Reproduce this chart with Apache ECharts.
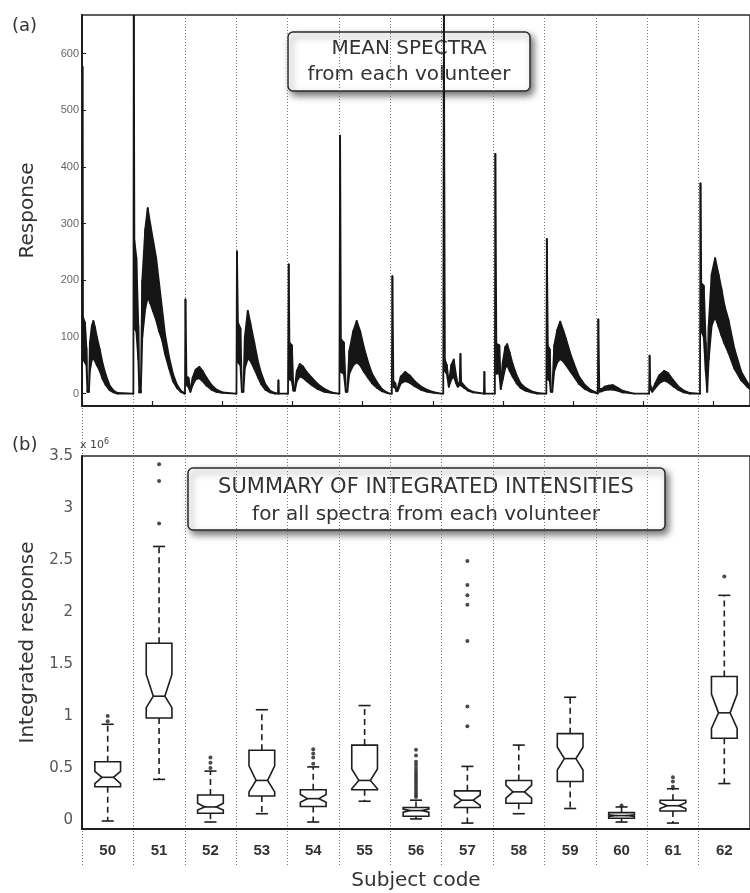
<!DOCTYPE html>
<html>
<head>
<meta charset="utf-8">
<script src="https://cdn.jsdelivr.net/npm/echarts@6/dist/echarts.min.js"></script>
<style>
  html, body { margin: 0; padding: 0; background: #fff; }
  #chart { width: 750px; height: 893px; }
</style>
</head>
<body>
<div id="chart"></div>
<script>
// subject codes, one spectrum segment and one box per volunteer
const subjects = ['50', '51', '52', '53', '54', '55', '56', '57', '58', '59', '60', '61', '62'];

// (a) mean spectra: [offset in segment, lower edge, upper edge]
const spec50 = [[0,0,0],[0.5,577,577],[1,60,135],[3,55,125],[4.5,50,80],[5.5,3,5],[7,3,5],[8,40,90],[10,60,120],[11.5,62,128],[13,58,118],[15,50,100],[18,40,78],[21,25,52],[24,15,33],[28,6,14],[32,2,5],[36,0,1],[51.5,0,0]];
const spec51 = [[0,0,0],[0.4,700,700],[1,115,270],[3,110,240],[5,60,120],[6,2,5],[7.5,2,5],[9,100,200],[12,150,290],[14.5,170,327],[17,160,300],[20,145,270],[23,130,240],[26,110,195],[29,95,150],[32,70,105],[36,45,65],[40,22,35],[44,10,16],[48,3,5],[51.5,0,1]];
const spec52 = [[0.2,0,0],[0.7,166,166],[1.7,15,30],[3.7,12,28],[5.7,3,6],[8,15,28],[11,25,42],[14.7,27,47],[18,22,40],[22,14,28],[27,7,15],[32,3,7],[38,1,2],[51.5,0,0]];
const spec53 = [[0.3,0,0],[0.8,251,251],[1.8,55,125],[4.3,50,115],[5.8,3,5],[7.3,3,5],[8.8,45,100],[11.8,62,146],[14.3,58,125],[18.3,44,90],[22.3,28,55],[25.3,17,36],[29.3,7,17],[34.3,2,5],[39.3,0,1],[42.3,0,0],[42.8,23,23],[43.3,0,0],[51.5,0,0]];
const spec54 = [[0.5,0,0],[1.2,228,228],[1.9,25,90],[4.4,22,85],[5.9,5,8],[7.4,5,10],[9.4,22,40],[12.4,30,52],[15.4,28,48],[19.4,22,38],[24.4,15,28],[30.4,8,17],[37.4,3,8],[44.4,1,2],[51.5,0,0]];
const spec55 = [[0.5,0,0],[1.2,455,455],[2,38,96],[5,35,90],[7,3,6],[8.5,3,6],[10.5,35,75],[14.5,50,110],[18,55,128],[21.5,50,110],[25.5,38,80],[29.5,28,55],[33.5,18,35],[38.5,10,20],[43.5,4,8],[48.5,1,2],[51.5,0,0]];
const spec56 = [[1.5,0,0],[2.1,207,207],[3.1,12,22],[5.1,10,18],[6.1,4,6],[7.6,5,10],[10.6,18,30],[15.1,22,38],[19.6,19,32],[24.6,13,22],[30.6,7,13],[37.6,3,6],[44.6,1,2],[51.6,0,0]];
const spec57 = [[1.6,0,0],[2.2,700,700],[3.2,40,60],[5.2,35,50],[7.2,12,18],[9.7,25,50],[12.2,30,60],[14.7,18,30],[16.2,12,16],[18.2,15,20],[19,70,70],[19.7,14,20],[22.7,10,14],[26.7,5,7],[31.7,2,3],[42.7,0,0],[43.2,38,38],[43.7,0,0],[51.7,0,0]];
const spec58 = [[1.8,0,0],[2.3,423,423],[3.3,35,88],[6.3,35,85],[7.8,8,12],[9.8,25,55],[12.3,45,82],[14.3,50,87],[16.8,40,72],[19.8,30,52],[23.8,18,32],[27.8,10,18],[32.8,5,10],[38.8,2,4],[44.8,0,1],[51.8,0,0]];
const spec59 = [[1.9,0,0],[2.4,273,273],[3.4,25,84],[5.4,22,78],[6.4,3,5],[7.9,3,6],[9.9,40,85],[12.9,55,112],[15.9,61,127],[18.9,57,112],[21.9,50,96],[25.9,40,72],[29.9,30,52],[34.9,17,30],[40.9,8,15],[46.9,3,6],[51.9,1,2]];
const spec60 = [[2,0,0],[2.5,131,131],[3.5,3,8],[6,4,8],[9,6,12],[13,7,14],[17,7,15],[22,5,10],[27,2,5],[33,1,2],[39,0,0],[51.9,0,0]];
const spec61 = [[1.9,0,0],[2.4,67,67],[3.1,8,15],[5.1,3,6],[8.1,10,18],[12.1,18,32],[17.1,23,40],[21.1,20,36],[26.1,13,24],[31.1,7,13],[37.1,2,5],[43.1,0,1],[51.8,0,0]];
const spec62 = [[1.4,0,0],[1.9,371,371],[2.7,110,195],[5.2,100,190],[7.2,40,90],[8.7,3,5],[10.2,60,120],[13.2,120,210],[16.7,135,239],[20.2,118,210],[23.2,102,184],[26.2,88,155],[30.2,72,130],[36.2,44,79],[43.2,23,38],[49.2,12,20],[52,8,14]];
const spectra = [spec50, spec51, spec52, spec53, spec54, spec55, spec56, spec57, spec58, spec59, spec60, spec61, spec62];
const segLen = 52;
const responseTicks = [0, 100, 200, 300, 400, 500, 600];

// (b) integrated intensities (x 10^6)
const lowWhisker = [-0.01, 0.39, -0.02, 0.06, -0.02, 0.18, 0.01, -0.03, 0.06, 0.11, -0.02, -0.03, 0.35];
const q1 = [0.32, 0.98, 0.065, 0.23, 0.13, 0.29, 0.035, 0.12, 0.16, 0.37, 0.016, 0.086, 0.785];
const notchLo = [0.35, 1.08, 0.095, 0.27, 0.17, 0.30, 0.075, 0.14, 0.21, 0.48, 0.034, 0.11, 0.88];
const median = [0.41, 1.19, 0.125, 0.38, 0.205, 0.38, 0.09, 0.19, 0.27, 0.59, 0.042, 0.137, 1.03];
const notchHi = [0.467, 1.40, 0.16, 0.52, 0.245, 0.49, 0.105, 0.24, 0.335, 0.70, 0.05, 0.165, 1.21];
const q3 = [0.56, 1.70, 0.24, 0.67, 0.29, 0.72, 0.12, 0.28, 0.38, 0.83, 0.07, 0.19, 1.38];
const highWhisker = [0.92, 2.63, 0.47, 1.06, 0.51, 1.10, 0.19, 0.515, 0.72, 1.18, 0.125, 0.30, 2.16];
const outliers = [
  [1.00, 0.95],
  [3.42, 3.26, 2.85],
  [0.50, 0.55, 0.60],
  [],
  [0.54, 0.60, 0.64, 0.68],
  [],
  [0.22, 0.245, 0.27, 0.295, 0.32, 0.345, 0.37, 0.395, 0.42, 0.445, 0.47, 0.50, 0.53, 0.56, 0.62, 0.675],
  [2.49, 2.26, 2.16, 2.07, 1.72, 1.09, 0.90],
  [],
  [],
  [0.14],
  [0.32, 0.37, 0.41],
  [2.34]
];
const intTicks = [0, 0.5, 1, 1.5, 2, 2.5, 3, 3.5];

// tables for the library
const specRows = [];
spectra.forEach(function (seg, i) {
  seg.forEach(function (p) { specRows.push([i * segLen + p[0], p[1], p[2]]); });
});
const boxRows = subjects.map(function (s, i) {
  return [i, lowWhisker[i], q1[i], notchLo[i], median[i], notchHi[i], q3[i], highWhisker[i]];
});
const outlierRows = [];
outliers.forEach(function (list, i) {
  list.forEach(function (v) { outlierRows.push([i, v]); });
});

const ink = '#1e1e1e';
const font = 'DejaVu Sans';
const plotW = 13 * 51.9;

const chart = echarts.init(document.getElementById('chart'));

chart.setOption({
  backgroundColor: '#fff',
  animation: false,
  grid: [
    { left: 82, top: 15, width: plotW, height: 391, show: true, borderColor: '#2a2a2a', borderWidth: 1.5 },
    { left: 82, top: 456, width: plotW, height: 373, show: true, borderColor: '#2a2a2a', borderWidth: 1.5 },
    { left: 82, top: 15, width: plotW, height: 850 }
  ],
  xAxis: [
    {
      gridIndex: 0, type: 'value', min: 0, max: 13 * segLen, interval: 71,
      axisLine: { onZero: false, lineStyle: { color: ink, width: 2 } },
      axisTick: { inside: true, length: 5, lineStyle: { color: ink, width: 1.2 } },
      axisLabel: { show: false },
      splitLine: { show: false }
    },
    {
      gridIndex: 1, type: 'category', data: subjects,
      name: 'Subject code', nameLocation: 'middle', nameGap: 42,
      nameTextStyle: { fontFamily: font, fontSize: 20, color: '#333' },
      axisLine: { onZero: false, lineStyle: { color: ink, width: 2 } },
      axisTick: { show: false },
      axisLabel: { fontFamily: 'Liberation Sans', fontWeight: 'bold', fontSize: 15, color: '#333', margin: 14 },
      splitLine: { show: false }
    },
    {
      gridIndex: 2, type: 'category', data: subjects,
      axisLine: { show: false }, axisTick: { show: false }, axisLabel: { show: false },
      splitLine: { show: true, lineStyle: { color: '#777', width: 1, type: [1, 2] } }
    }
  ],
  yAxis: [
    {
      gridIndex: 0, type: 'value', min: -22, max: 668,
      name: 'Response', nameLocation: 'middle', nameGap: 44,
      nameTextStyle: { fontFamily: font, fontSize: 20, color: '#333' },
      axisLine: { show: true, onZero: false, lineStyle: { color: ink, width: 2 } },
      axisTick: { show: true, inside: true, length: 4, customValues: responseTicks, lineStyle: { color: ink } },
      axisLabel: { customValues: responseTicks, fontFamily: 'Liberation Sans', fontSize: 11, color: '#666', margin: 3 },
      splitLine: { show: false }
    },
    {
      gridIndex: 1, type: 'value', min: -0.087, max: 3.5,
      name: 'Integrated response', nameLocation: 'middle', nameGap: 44,
      nameTextStyle: { fontFamily: font, fontSize: 20, color: '#333' },
      axisLine: { show: true, onZero: false, lineStyle: { color: ink, width: 2 } },
      axisTick: { show: false },
      axisLabel: { customValues: intTicks, fontFamily: font, fontSize: 15, color: '#555', margin: 9 },
      splitLine: { show: false }
    },
    { gridIndex: 2, type: 'value', show: false }
  ],
  graphic: [
    { type: 'text', left: 12, top: 17, z: 100, style: { text: '(a)', font: '18px "DejaVu Sans"', fill: '#333' } },
    { type: 'text', left: 12, top: 436, z: 100, style: { text: '(b)', font: '18px "DejaVu Sans"', fill: '#333' } },
    { type: 'text', left: 80, top: 438, z: 100, style: { text: '{a|x 10}{b|6}', rich: { a: { font: '11px "DejaVu Sans"', fill: '#444' }, b: { font: '8px "DejaVu Sans"', fill: '#444', verticalAlign: 'top', padding: [0, 0, 6, 0] } } } },
    {
      type: 'group', z: 100, children: [
        { type: 'rect', shape: { x: 288, y: 32, width: 242, height: 59, r: 5 }, style: { fill: '#fff', stroke: '#2a2a2a', lineWidth: 1.5, shadowBlur: 7, shadowOffsetX: 3, shadowOffsetY: 4, shadowColor: 'rgba(0,0,0,0.55)' } },
        { type: 'text', x: 409, y: 49, style: { text: 'MEAN SPECTRA', font: '20px "DejaVu Sans"', fill: '#333', align: 'center', verticalAlign: 'middle' } },
        { type: 'text', x: 409, y: 75, style: { text: 'from each volunteer', font: '20px "DejaVu Sans"', fill: '#333', align: 'center', verticalAlign: 'middle' } }
      ]
    },
    {
      type: 'group', z: 100, children: [
        { type: 'rect', shape: { x: 188, y: 468, width: 477, height: 62, r: 5 }, style: { fill: '#fff', stroke: '#2a2a2a', lineWidth: 1.5, shadowBlur: 7, shadowOffsetX: 3, shadowOffsetY: 4, shadowColor: 'rgba(0,0,0,0.55)' } },
        { type: 'text', x: 426, y: 488, style: { text: 'SUMMARY OF INTEGRATED INTENSITIES', font: '21px "DejaVu Sans"', fill: '#333', align: 'center', verticalAlign: 'middle' } },
        { type: 'text', x: 426, y: 515, style: { text: 'for all spectra from each volunteer', font: '20px "DejaVu Sans"', fill: '#333', align: 'center', verticalAlign: 'middle' } }
      ]
    }
  ],
  series: [
    {
      // mean spectrum band, one quad between consecutive read points
      type: 'custom', xAxisIndex: 0, yAxisIndex: 0, clip: true,
      data: specRows,
      encode: { x: 0, y: [1, 2] },
      renderItem: function (params, api) {
        const i = params.dataIndex;
        if (i >= specRows.length - 1) return;
        const a = specRows[i], b = specRows[i + 1];
        return {
          type: 'polygon',
          shape: { points: [api.coord([a[0], a[2]]), api.coord([b[0], b[2]]), api.coord([b[0], b[1]]), api.coord([a[0], a[1]])] },
          style: { fill: '#161616', stroke: '#161616', lineWidth: 1.8, lineJoin: 'round' }
        };
      }
    },
    {
      // notched boxes
      type: 'custom', xAxisIndex: 1, yAxisIndex: 1,
      data: boxRows,
      encode: { x: 0, y: [1, 2, 3, 4, 5, 6, 7] },
      renderItem: function (params, api) {
        const c = api.value(0);
        const half = api.size([1, 0])[0] * 0.25;
        const inner = half * 0.45;
        const cap = half * 0.47;
        const P = function (dx, v) { const p = api.coord([c, v]); return [p[0] + dx, p[1]]; };
        const lo = api.value(1), b1 = api.value(2), nl = api.value(3), md = api.value(4),
          nh = api.value(5), b3 = api.value(6), hi = api.value(7);
        const solid = { stroke: ink, lineWidth: 1.6, fill: null };
        const dash = { stroke: ink, lineWidth: 1.6, lineDash: [6, 4], fill: null };
        return {
          type: 'group',
          children: [
            { type: 'line', shape: { x1: P(0, b3)[0], y1: P(0, b3)[1], x2: P(0, hi)[0], y2: P(0, hi)[1] }, style: dash },
            { type: 'line', shape: { x1: P(0, b1)[0], y1: P(0, b1)[1], x2: P(0, lo)[0], y2: P(0, lo)[1] }, style: dash },
            { type: 'line', shape: { x1: P(-cap, hi)[0], y1: P(-cap, hi)[1], x2: P(cap, hi)[0], y2: P(cap, hi)[1] }, style: solid },
            { type: 'line', shape: { x1: P(-cap, lo)[0], y1: P(-cap, lo)[1], x2: P(cap, lo)[0], y2: P(cap, lo)[1] }, style: solid },
            {
              type: 'polygon',
              shape: { points: [P(-half, b3), P(half, b3), P(half, nh), P(inner, md), P(half, nl), P(half, b1), P(-half, b1), P(-half, nl), P(-inner, md), P(-half, nh)] },
              style: { stroke: ink, lineWidth: 1.6, fill: '#fff' }
            },
            { type: 'line', shape: { x1: P(-inner, md)[0], y1: P(-inner, md)[1], x2: P(inner, md)[0], y2: P(inner, md)[1] }, style: solid }
          ]
        };
      }
    },
    {
      type: 'scatter', xAxisIndex: 1, yAxisIndex: 1,
      data: outlierRows,
      symbol: 'circle', symbolSize: 4,
      itemStyle: { color: ink }
    }
  ]
});
</script>
</body>
</html>
